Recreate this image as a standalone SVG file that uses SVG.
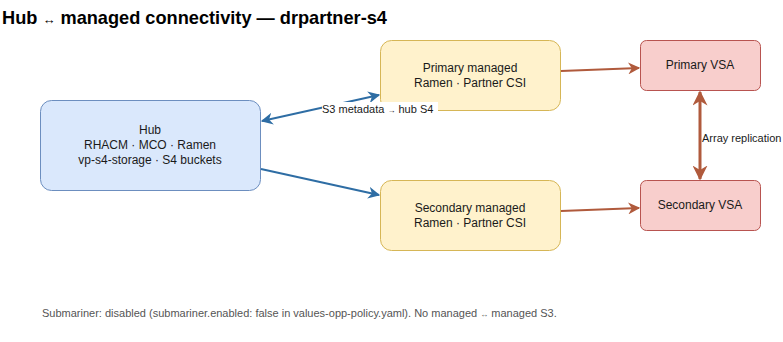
<svg xmlns="http://www.w3.org/2000/svg" width="783" height="342" viewBox="0 0 783 342">
<style>
text{font-family:"Liberation Sans",Arial,sans-serif;fill:#1a1a1a}
.t{font-size:18.2px;font-weight:bold;fill:#000}
.n{font-size:12px;text-anchor:middle}
.l{font-size:11px}
.f{font-size:11px;fill:#555}
.hub{fill:#dae8fc;stroke:#6c8ebf}
.mg{fill:#fff2cc;stroke:#d6b656}
.vsa{fill:#f8cecc;stroke:#b85450}
.b{stroke:#2e6da4;stroke-width:2;fill:none}
.r{stroke:#b05a3c;stroke-width:2;fill:none}
</style>
<defs>
<marker id="ab" viewBox="0 0 10 10" refX="9" refY="5" markerWidth="6" markerHeight="6" orient="auto-start-reverse" markerUnits="strokeWidth"><path d="M0,0 L10,5 L0,10 L3,5 z" fill="#2e6da4"/></marker>
<marker id="ar" viewBox="0 0 10 10" refX="9" refY="5" markerWidth="6" markerHeight="6" orient="auto-start-reverse" markerUnits="strokeWidth"><path d="M0,0 L10,5 L0,10 L3,5 z" fill="#b05a3c"/></marker>
<marker id="ar2" viewBox="0 0 10 10" refX="9" refY="5" markerWidth="5" markerHeight="5" orient="auto-start-reverse" markerUnits="strokeWidth"><path d="M0,0 L10,5 L0,10 L3,5 z" fill="#b05a3c"/></marker>
</defs>
<text class="t" x="2" y="24">Hub <tspan font-size="13">↔</tspan> managed connectivity — drpartner-s4</text>
<g id="hub">
<rect class="hub" x="40.5" y="100.5" width="220" height="90" rx="11"/>
<text class="n" x="150" y="134">Hub</text>
<text class="n" x="150" y="149">RHACM · MCO · Ramen</text>
<text class="n" x="150" y="164">vp-s4-storage · S4 buckets</text>
</g>
<g id="primary-managed">
<rect class="mg" x="380.5" y="40.5" width="180" height="70" rx="11"/>
<text class="n" x="470" y="72">Primary managed</text>
<text class="n" x="470" y="87">Ramen · Partner CSI</text>
</g>
<g id="secondary-managed">
<rect class="mg" x="380.5" y="180.5" width="180" height="70" rx="11"/>
<text class="n" x="470" y="212">Secondary managed</text>
<text class="n" x="470" y="227">Ramen · Partner CSI</text>
</g>
<g id="primary-vsa">
<rect class="vsa" x="640.5" y="40.5" width="120" height="50" rx="6"/>
<text class="n" x="700" y="69">Primary VSA</text>
</g>
<g id="secondary-vsa">
<rect class="vsa" x="640.5" y="180.5" width="120" height="50" rx="6"/>
<text class="n" x="700" y="209">Secondary VSA</text>
</g>
<g id="connectors">
<line class="b" x1="262" y1="121" x2="379" y2="95" marker-start="url(#ab)" marker-end="url(#ab)"/>
<rect x="322" y="102" width="116" height="14" fill="#fff"/>
<text class="l" x="322" y="113">S3 metadata <tspan font-size="8">→</tspan> hub S4</text>
<line class="b" x1="261" y1="169" x2="379" y2="195" marker-end="url(#ab)"/>
<line class="r" x1="561" y1="71" x2="639" y2="68" marker-end="url(#ar)"/>
<line class="r" x1="561" y1="211" x2="639" y2="208" marker-end="url(#ar)"/>
<line class="r" style="stroke-width:3" x1="700" y1="92" x2="700" y2="179" marker-start="url(#ar2)" marker-end="url(#ar2)"/>
<text class="l" x="702" y="142">Array replication</text>
</g>
<text class="f" x="42" y="317">Submariner: disabled (submariner.enabled: false in values-opp-policy.yaml). No managed <tspan font-size="8">↔</tspan> managed S3.</text>
</svg>
